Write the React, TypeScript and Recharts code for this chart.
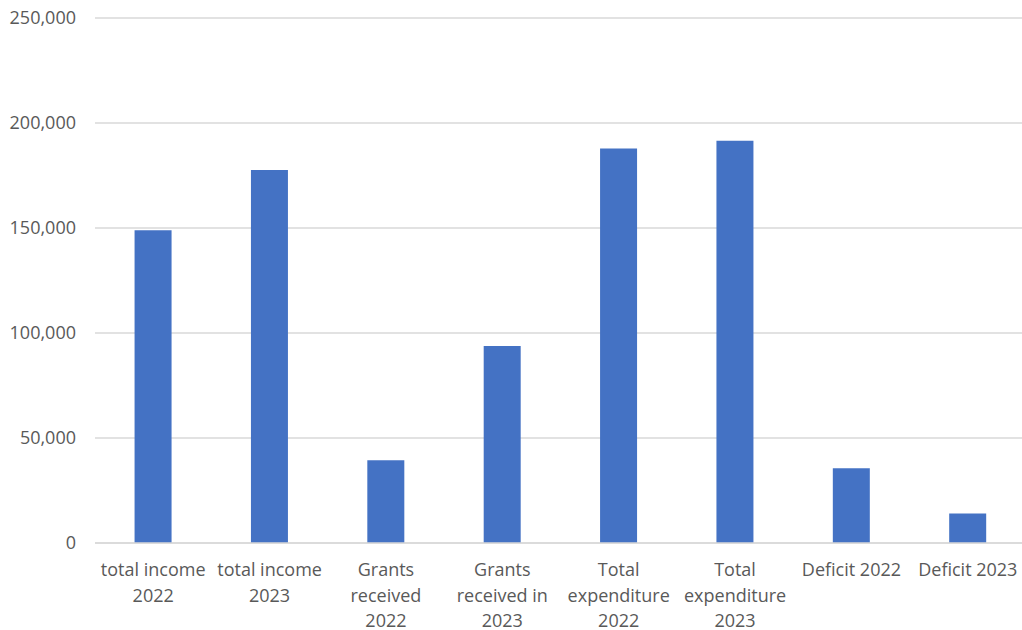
import React from "react";
import { BarChart, Bar, XAxis, YAxis, CartesianGrid } from "recharts";

const categories = [
  "total income\n2022",
  "total income\n2023",
  "Grants\nreceived\n2022",
  "Grants\nreceived in\n2023",
  "Total\nexpenditure\n2022",
  "Total\nexpenditure\n2023",
  "Deficit 2022",
  "Deficit 2023",
];
const values = [148900, 177600, 39400, 93800, 187800, 191600, 35600, 14000];
const yTicks = [0, 50000, 100000, 150000, 200000, 250000];

const data = categories.map((c, i) => ({ name: c, value: values[i] }));

const FONT = "'Open Sans', sans-serif";
const TEXT_COLOR = "#595959";

const XTick = (props: any) => {
  const { x, y, payload } = props;
  const lines = String(payload.value).split("\n");
  return (
    <g transform={`translate(${x},${y})`}>
      {lines.map((l, i) => (
        <text
          key={i}
          x={0}
          y={27 + i * 25.5}
          textAnchor="middle"
          fill={TEXT_COLOR}
          fontFamily={FONT}
          fontSize={18}
        >
          {l}
        </text>
      ))}
    </g>
  );
};

export default function App() {
  return (
    <div style={{ position: "absolute", left: 0, top: 0, width: 1022, height: 630, background: "#fff", overflow: "hidden" }}>
      <BarChart
        width={1026}
        height={630}
        data={data}
        margin={{ top: 18, right: 0, left: 0, bottom: 0 }}
        barCategoryGap="34%"
      >
        <CartesianGrid vertical={false} stroke="#d9d9d9" strokeWidth={1.5} />
        <XAxis
          dataKey="name"
          axisLine={{ stroke: "#d9d9d9", strokeWidth: 1.5 }}
          tickLine={false}
          tickMargin={0}
          height={87}
          interval={0}
          tick={<XTick />}
        />
        <YAxis
          domain={[0, 250000]}
          ticks={yTicks}
          width={95}
          axisLine={false}
          tickLine={false}
          tickMargin={13}
          tickFormatter={(v: number) => v.toLocaleString("en-US")}
          tick={{ fill: TEXT_COLOR, fontFamily: FONT, fontSize: 18 }}
        />
        <Bar dataKey="value" fill="#4472C4" isAnimationActive={false} />
      </BarChart>
    </div>
  );
}
